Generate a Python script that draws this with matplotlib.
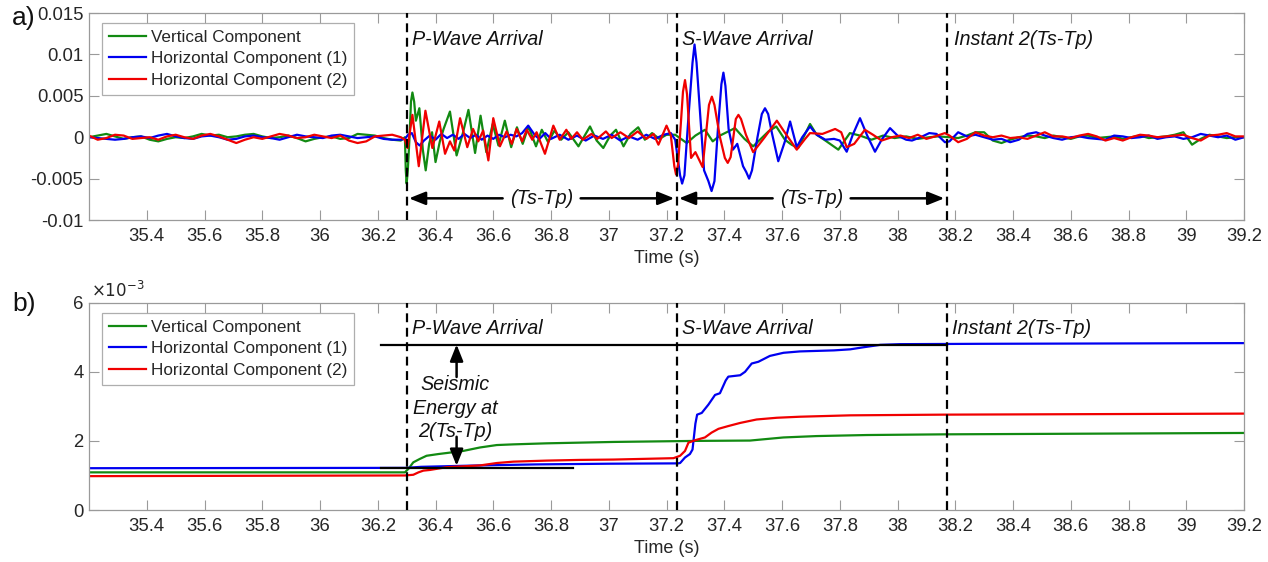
import numpy as np
import matplotlib
matplotlib.use('Agg')
import matplotlib.pyplot as plt
from matplotlib.ticker import FuncFormatter

plt.rcParams['font.family'] = ['Liberation Sans', 'DejaVu Sans']
plt.rcParams['axes.unicode_minus'] = False

# ---------------- data ----------------
series_names = ['Vertical Component', 'Horizontal Component (1)', 'Horizontal Component (2)']
series_colors = ['#128a12', '#0000f0', '#f00000']

t_p, t_s, t_2 = 36.30, 37.235, 38.17   # arrival times and instant 2(Ts-Tp)

# (a) waveforms, values in units of 1e-3
t_pre = [35.20, 35.23, 35.26, 35.29, 35.32, 35.35, 35.38, 35.41, 35.44, 35.47,
         35.50, 35.53, 35.56, 35.59, 35.62, 35.65, 35.68, 35.71, 35.74, 35.77,
         35.80, 35.83, 35.86, 35.89, 35.92, 35.95, 35.98, 36.01, 36.04, 36.07,
         36.10, 36.13, 36.16, 36.19, 36.22, 36.25, 36.28]
green_pre = [0.0, 0.2, 0.4, 0.1, -0.2, 0.0, 0.1, -0.3, -0.5, -0.2,
             0.0, -0.1, 0.1, 0.4, 0.2, 0.3, 0.0, 0.1, 0.3, 0.4,
             0.1, -0.1, 0.0, 0.2, -0.1, -0.5, -0.2, 0.0, 0.1, -0.2,
             -0.1, 0.4, 0.3, 0.2, -0.1, -0.3, -0.4]
blue_pre = [0.0, -0.1, -0.2, -0.3, -0.2, 0.0, 0.1, -0.1, 0.2, 0.4,
            0.1, -0.1, -0.2, 0.1, 0.2, 0.0, -0.3, -0.2, 0.1, 0.2,
            0.0, -0.1, -0.3, 0.0, 0.3, 0.1, 0.0, -0.1, 0.2, 0.3,
            0.1, -0.1, 0.0, 0.1, -0.2, -0.3, -0.3]
red_pre = [0.2, -0.3, -0.1, 0.3, 0.2, -0.2, -0.1, 0.0, -0.3, 0.1,
           0.3, 0.0, -0.2, 0.2, 0.4, 0.1, -0.3, -0.7, -0.3, 0.0,
           -0.2, 0.1, 0.4, 0.2, -0.1, 0.0, 0.3, 0.1, -0.1, 0.2,
           -0.4, -0.7, -0.5, 0.1, 0.2, 0.3, 0.0]

green_active = [(36.294, 0.0), (36.297, -4.0), (36.300, -5.6), (36.304, -4.0), (36.310, 0.0),
                (36.315, 4.3), (36.320, 5.4), (36.326, 4.3), (36.332, 2.0),
                (36.344, 3.5), (36.356, -1.5), (36.366, -4.0), (36.378, -0.8), (36.388, 0.6),
                (36.400, -3.0), (36.415, -0.5), (36.428, 1.0), (36.450, 3.1), (36.473, -2.2),
                (36.494, 0.4), (36.514, 3.3), (36.537, -1.9), (36.556, 2.6), (36.576, -1.8),
                (36.598, 1.6), (36.618, -1.0), (36.640, 2.0), (36.662, -1.2), (36.682, 1.2),
                (36.702, -0.8), (36.722, 1.3), (36.748, -1.1), (36.768, 0.9), (36.790, -0.6),
                (36.812, 0.8), (36.835, -0.3), (36.860, 0.6), (36.895, -1.1), (36.935, 1.3),
                (36.958, -0.4), (36.981, -1.3), (37.005, 0.2), (37.025, 0.9), (37.051, -1.1),
                (37.075, 0.4), (37.102, 1.2), (37.125, -0.3), (37.150, 0.5), (37.175, -0.2),
                (37.200, 0.3), (37.230, 0.3), (37.270, -0.7), (37.300, 0.2), (37.333, 0.9),
                (37.360, -0.5), (37.385, 0.2), (37.437, 1.1), (37.470, -0.2), (37.500, -1.1),
                (37.553, 0.7), (37.580, 1.3), (37.610, -0.3), (37.633, -0.9), (37.656, -1.3),
                (37.697, 1.6), (37.720, 0.3), (37.750, -0.4), (37.795, -1.5), (37.835, 0.5),
                (37.870, 0.2), (37.910, -0.3), (37.950, 0.2), (37.990, -0.1), (38.030, 0.1),
                (38.070, -0.2), (38.110, 0.0), (38.140, 0.1)]
blue_active = [(36.294, -0.2), (36.305, 0.3), (36.318, 0.5), (36.332, -0.6), (36.345, -1.0),
               (36.360, -0.4), (36.380, 0.2), (36.400, -0.3), (36.420, 0.4), (36.440, -0.1),
               (36.460, 0.3), (36.480, -0.2), (36.500, 0.4), (36.520, -0.1), (36.540, 0.3),
               (36.560, -0.3), (36.580, 0.2), (36.600, -0.2), (36.620, 0.3), (36.640, 0.0),
               (36.660, 0.3), (36.680, 0.1), (36.700, 0.5), (36.721, 1.4), (36.745, 0.2),
               (36.760, -0.2), (36.780, 0.5), (36.800, -0.2), (36.830, 0.3), (36.860, -0.3),
               (36.890, 0.2), (36.920, -0.4), (36.950, 0.2), (36.980, -0.2), (37.010, 0.3),
               (37.040, -0.4), (37.070, 0.1), (37.100, -0.3), (37.130, 0.3), (37.160, -0.2),
               (37.190, 0.3), (37.215, 0.5), (37.230, -0.3), (37.247, -4.6), (37.254, -5.6),
               (37.262, -4.6), (37.275, 2.0), (37.290, 9.0), (37.297, 11.2), (37.304, 9.0),
               (37.318, 2.0), (37.330, -4.0), (37.345, -5.3), (37.356, -6.5), (37.366, -5.3),
               (37.378, 1.0), (37.390, 6.4), (37.397, 7.8), (37.404, 6.2), (37.415, 1.0),
               (37.430, -1.5), (37.445, -0.8), (37.465, -3.5), (37.476, -4.2), (37.486, -5.0),
               (37.496, -4.0), (37.515, 0.0), (37.530, 2.8), (37.541, 3.5), (37.552, 2.8),
               (37.565, 0.5), (37.587, -2.9), (37.610, -0.5), (37.628, 1.9), (37.651, -1.2),
               (37.670, 0.0), (37.697, 1.3), (37.720, 0.3), (37.750, -0.3), (37.780, -0.2),
               (37.800, -0.4), (37.824, -1.75), (37.845, 0.3), (37.870, 2.3), (37.895, 0.2),
               (37.922, -1.75), (37.945, -0.3), (37.974, 1.1), (38.000, 0.2), (38.030, -0.3),
               (38.050, -0.4), (38.080, 0.0), (38.110, 0.5), (38.135, 0.4), (38.164, -0.6)]
red_active = [(36.294, -0.3), (36.303, -1.3), (36.320, 2.7), (36.342, -3.5), (36.365, 3.2),
              (36.389, -1.3), (36.413, 1.9), (36.433, -2.0), (36.450, -0.5), (36.465, -1.6),
              (36.485, 2.3), (36.510, -1.2), (36.530, 1.0), (36.548, -0.5), (36.565, 0.8),
              (36.583, -2.8), (36.600, 2.3), (36.623, -1.1), (36.646, 0.7), (36.664, -0.8),
              (36.681, 1.0), (36.700, -0.5), (36.716, 0.9), (36.735, -0.3), (36.750, 0.6),
              (36.779, -2.0), (36.808, 1.4), (36.830, -0.3), (36.853, 0.9), (36.870, -0.2),
              (36.890, 0.6), (36.910, -0.3), (36.940, 0.4), (36.960, -0.2), (36.990, 0.7),
              (37.010, -0.1), (37.040, 0.6), (37.070, -0.1), (37.100, 0.7), (37.130, -0.2),
              (37.155, 0.4), (37.172, -0.9), (37.200, 1.4), (37.215, 0.2), (37.227, -3.5),
              (37.233, -4.5), (37.240, -3.3), (37.257, 5.5), (37.264, 6.9), (37.271, 5.2),
              (37.285, -2.5), (37.300, -1.8), (37.325, -3.6), (37.347, 3.9), (37.357, 4.9),
              (37.366, 3.9), (37.385, 0.0), (37.402, -2.5), (37.412, -3.1), (37.422, -2.4),
              (37.440, 2.2), (37.449, 2.7), (37.458, 2.2), (37.475, 0.3), (37.500, -1.8),
              (37.540, 0.0), (37.582, 2.0), (37.615, 0.3), (37.651, -1.5), (37.680, -0.2),
              (37.697, 0.5), (37.740, 0.4), (37.784, 1.0), (37.805, 0.6), (37.824, -1.2),
              (37.850, -0.8), (37.887, 0.9), (37.915, 0.3), (37.945, -0.4), (37.980, 0.0),
              (38.010, 0.2), (38.040, -0.1), (38.070, 0.3), (38.100, -0.2), (38.130, 0.1),
              (38.164, 0.5)]

t_post = [38.18, 38.21, 38.24, 38.27, 38.30, 38.33, 38.36, 38.39, 38.42, 38.45,
          38.48, 38.51, 38.54, 38.57, 38.60, 38.63, 38.66, 38.69, 38.72, 38.75,
          38.78, 38.81, 38.84, 38.87, 38.90, 38.93, 38.96, 38.99, 39.02, 39.05,
          39.08, 39.11, 39.14, 39.17, 39.20]
green_post = [0.0, -0.1, 0.2, 0.6, 0.6, -0.4, -0.7, -0.3, 0.0, 0.2,
              0.1, -0.1, 0.2, 0.0, -0.2, 0.1, 0.2, -0.1, 0.0, 0.1,
              -0.2, 0.0, 0.2, -0.1, 0.0, 0.1, 0.3, 0.6, -0.9, -0.2,
              0.3, 0.1, -0.1, 0.0, 0.0]
blue_post = [-0.5, 0.6, 0.1, 0.3, 0.0, -0.3, -0.2, -0.6, -0.3, 0.4,
             0.6, 0.2, -0.1, -0.3, 0.0, 0.1, -0.1, -0.2, -0.3, 0.2,
             0.1, -0.1, 0.0, 0.2, -0.2, 0.0, 0.1, -0.2, 0.0, 0.4,
             0.2, 0.0, 0.2, -0.3, 0.0]
red_post = [0.2, -0.6, -0.2, 0.6, 0.2, 0.0, 0.2, -0.1, 0.0, -0.2,
            0.2, 0.6, 0.1, 0.1, -0.1, 0.2, 0.4, 0.1, -0.4, -0.1,
            -0.4, 0.0, 0.3, 0.2, 0.0, 0.1, 0.2, 0.3, -0.1, -0.4,
            0.2, 0.3, 0.5, 0.1, 0.1]

# (b) cumulative seismic energy, values in units of 1e-3
green_energy = [(35.20, 1.09), (36.294, 1.09), (36.306, 1.19), (36.323, 1.38), (36.346, 1.48),
                (36.369, 1.57), (36.410, 1.62), (36.439, 1.65), (36.496, 1.71), (36.554, 1.81),
                (36.612, 1.88), (36.670, 1.90), (36.785, 1.93), (37.016, 1.97), (37.300, 2.00),
                (37.489, 2.01), (37.605, 2.10), (37.720, 2.14), (37.893, 2.17), (38.159, 2.19),
                (39.20, 2.23)]
blue_energy = [(35.20, 1.21), (36.300, 1.22), (36.350, 1.25), (36.550, 1.29), (36.750, 1.32),
               (37.000, 1.34), (37.240, 1.35), (37.247, 1.36), (37.264, 1.52), (37.281, 1.62),
               (37.290, 1.75), (37.300, 2.50), (37.306, 2.76), (37.322, 2.81), (37.345, 3.05),
               (37.368, 3.33), (37.385, 3.38), (37.405, 3.75), (37.414, 3.86), (37.455, 3.90),
               (37.472, 4.00), (37.495, 4.24), (37.518, 4.29), (37.558, 4.46), (37.605, 4.55),
               (37.662, 4.59), (37.780, 4.62), (37.836, 4.65), (37.882, 4.71), (37.940, 4.78),
               (38.009, 4.80), (38.286, 4.81), (39.20, 4.83)]
red_energy = [(35.20, 0.98), (36.294, 1.00), (36.323, 1.02), (36.341, 1.09), (36.358, 1.14),
              (36.381, 1.16), (36.439, 1.24), (36.554, 1.29), (36.612, 1.36), (36.670, 1.40),
              (36.785, 1.43), (36.900, 1.45), (37.016, 1.46), (37.224, 1.50), (37.247, 1.57),
              (37.264, 1.71), (37.276, 1.95), (37.299, 2.02), (37.333, 2.10), (37.356, 2.24),
              (37.380, 2.35), (37.414, 2.43), (37.455, 2.52), (37.512, 2.62), (37.582, 2.67),
              (37.662, 2.70), (37.836, 2.74), (38.159, 2.76), (39.20, 2.79)]

energy_ref_hi = (36.21, t_2, 4.79)     # start, end, level (1e-3)
energy_ref_lo = (36.21, 36.877, 1.23)

x_ticks = [35.4, 35.6, 35.8, 36.0, 36.2, 36.4, 36.6, 36.8, 37.0, 37.2,
           37.4, 37.6, 37.8, 38.0, 38.2, 38.4, 38.6, 38.8, 39.0, 39.2]
a_yticks = [-0.01, -0.005, 0, 0.005, 0.01, 0.015]
a_yticklabels = ['-0.01', '-0.005', '0', '0.005', '0.01', '0.015']
b_yticks = [0, 2e-3, 4e-3, 6e-3]

# ---------------- figure ----------------
fig = plt.figure(figsize=(12.68, 5.62), dpi=100)
axA = fig.add_axes([0.0702, 0.6085, 0.9109, 0.3683])
axB = fig.add_axes([0.0702, 0.0925, 0.9109, 0.3689])

spine_col = '#9a9a9a'
text_col = '#262626'
ann_col = '#111111'
TICK_FS = 13.3
LEG_FS = 12.3
ANN_FS = 14.2


def style_axes(ax):
    ax.set_xlim(35.2, 39.2)
    ax.set_xticks(x_ticks)
    ax.xaxis.set_major_formatter(FuncFormatter(lambda v, p: f'{v:g}'))
    ax.tick_params(direction='in', top=True, right=True, length=7, width=0.8,
                   color=spine_col, labelcolor=text_col, labelsize=TICK_FS)
    ax.tick_params(axis='x', pad=6)
    ax.tick_params(axis='y', pad=4)
    for s in ax.spines.values():
        s.set_color(spine_col)
        s.set_linewidth(0.9)
    ax.set_xlabel('Time (s)', fontsize=13, color=text_col, labelpad=3)


def make_legend(ax, top):
    leg = ax.legend(loc='upper left', bbox_to_anchor=(0.0113, top), fontsize=LEG_FS,
                    frameon=True, fancybox=False, edgecolor=spine_col, handlelength=2.2,
                    handletextpad=0.25, labelspacing=0.38, borderpad=0.4, borderaxespad=0)
    leg.get_frame().set_linewidth(0.9)
    for txt in leg.get_texts():
        txt.set_color(text_col)
    return leg


dash = (0, (4, 2.5))
arr = dict(arrowstyle='-|>,head_length=0.45,head_width=0.18', color='k', lw=1.8,
           shrinkA=0, shrinkB=0, mutation_scale=22)

# ---- panel a ----
wave_sets = [(green_pre, green_active, green_post),
             (blue_pre, blue_active, blue_post),
             (red_pre, red_active, red_post)]
for (pre, act, post), col, name in zip(wave_sets, series_colors, series_names):
    ta = [p[0] for p in act]
    va = [p[1] for p in act]
    t = np.concatenate([t_pre, ta, t_post])
    v = np.concatenate([pre, va, post]) * 1e-3
    axA.plot(t, v, color=col, lw=1.6, label=name, solid_joinstyle='round')

axA.set_ylim(-0.01, 0.015)
axA.set_yticks(a_yticks)
axA.set_yticklabels(a_yticklabels)
style_axes(axA)
for xv in (t_p, t_s, t_2):
    axA.axvline(xv, color='k', lw=1.6, ls=dash, zorder=6)

ylab_a = 0.01175
axA.text(t_p + 0.02, ylab_a, 'P-Wave Arrival', style='italic', fontsize=ANN_FS, va='center', color=ann_col)
axA.text(t_s + 0.018, ylab_a, 'S-Wave Arrival', style='italic', fontsize=ANN_FS, va='center', color=ann_col)
axA.text(t_2 + 0.026, ylab_a, 'Instant 2(Ts-Tp)', style='italic', fontsize=ANN_FS, va='center', color=ann_col)

ya = -0.00738
for left, right in ((t_p, t_s), (t_s, t_2)):
    mid = (left + right) / 2
    axA.annotate('', xy=(left + 0.008, ya), xytext=(mid - 0.135, ya), arrowprops=arr)
    axA.annotate('', xy=(right - 0.008, ya), xytext=(mid + 0.135, ya), arrowprops=arr)
    axA.text(mid, ya, '(Ts-Tp)', style='italic', fontsize=ANN_FS, ha='center', va='center', color=ann_col)

make_legend(axA, 0.952)

# ---- panel b ----
for data, col, name in zip((green_energy, blue_energy, red_energy), series_colors, series_names):
    t = [p[0] for p in data]
    v = np.array([p[1] for p in data]) * 1e-3
    axB.plot(t, v, color=col, lw=1.6, label=name, solid_joinstyle='round')

for x0, x1, lvl in (energy_ref_hi, energy_ref_lo):
    axB.plot([x0, x1], [lvl * 1e-3, lvl * 1e-3], color='k', lw=1.6, zorder=4)

axB.set_ylim(0, 6e-3)
axB.set_yticks(b_yticks)
axB.yaxis.set_major_formatter(FuncFormatter(lambda v, p: f'{v * 1e3:g}'))
style_axes(axB)
for xv in (t_p, t_s, t_2):
    axB.axvline(xv, color='k', lw=1.6, ls=dash, zorder=6)

ylab_b = 5.24e-3
axB.text(t_p + 0.02, ylab_b, 'P-Wave Arrival', style='italic', fontsize=ANN_FS, va='center', color=ann_col)
axB.text(t_s + 0.018, ylab_b, 'S-Wave Arrival', style='italic', fontsize=ANN_FS, va='center', color=ann_col)
axB.text(t_2 + 0.017, ylab_b, 'Instant 2(Ts-Tp)', style='italic', fontsize=ANN_FS, va='center', color=ann_col)

xarr = 36.473
axB.annotate('', xy=(xarr, energy_ref_hi[2] * 1e-3), xytext=(xarr, 3.85e-3), arrowprops=arr)
axB.annotate('', xy=(xarr, energy_ref_lo[2] * 1e-3 + 0.05e-3), xytext=(xarr, 2.12e-3), arrowprops=arr)
axB.text(36.467, 3.62e-3, 'Seismic', style='italic', fontsize=ANN_FS, ha='center', va='center', color=ann_col)
axB.text(36.467, 2.95e-3, 'Energy at', style='italic', fontsize=ANN_FS, ha='center', va='center', color=ann_col)
axB.text(36.467, 2.26e-3, '2(Ts-Tp)', style='italic', fontsize=ANN_FS, ha='center', va='center', color=ann_col)

make_legend(axB, 0.950)

fig.text(91 / 1268, 1 - 290 / 562, r'$\times10^{-3}$', fontsize=12, color=text_col, va='center')
fig.text(12 / 1268, 1 - 18 / 562, 'a)', fontsize=19, va='center', color=ann_col)
fig.text(12 / 1268, 1 - 304 / 562, 'b)', fontsize=19, va='center', color=ann_col)

fig.savefig('out.png', dpi=100)
